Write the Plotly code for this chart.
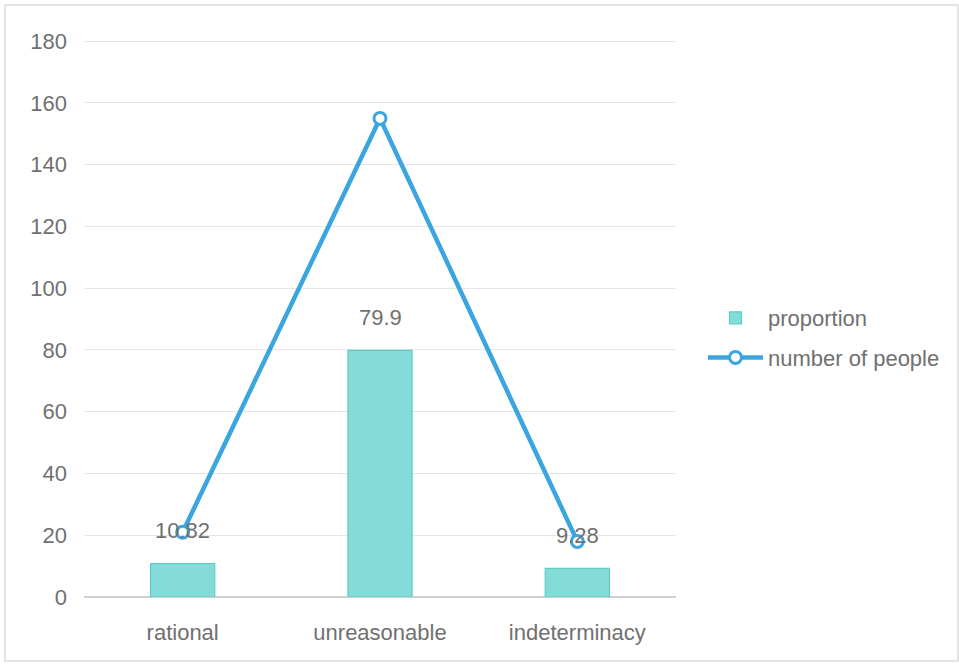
import plotly.graph_objects as go

categories = ["rational", "unreasonable", "indeterminacy"]
proportion = [10.82, 79.9, 9.28]
people = [21, 155, 18]
y_ticks = [0, 20, 40, 60, 80, 100, 120, 140, 160, 180]

W, H = 959, 664
L, R, T, B = 84, 283, 40, 67
pw, ph = W - L - R, H - T - B

def px_x(p):
    return (p - L) / pw

def px_y(p):
    return (H - B - p) / ph

FS = 22
GREY = "#707070"

fig = go.Figure()
fig.add_trace(go.Bar(
    x=categories, y=proportion, name="proportion", legendgroup="a",
    width=0.325,
    marker=dict(color="#84dcd9", line=dict(color="#5ccdca", width=1.2)),
    hoverinfo="x+y",
))
fig.add_trace(go.Scatter(
    x=categories, y=people, name="number of people", legendgroup="b",
    mode="lines+markers",
    line=dict(color="#3aa5df", width=4.5),
    marker=dict(symbol="circle", size=12, color="white",
                line=dict(color="#3aa5df", width=3)),
))

for c, v in zip(categories, proportion):
    fig.add_annotation(x=c, y=v, text=f"{v:g}", showarrow=False,
                       yshift=33, font=dict(size=FS, color=GREY))

fig.add_shape(type="rect", xref="paper", yref="paper",
              x0=px_x(5), x1=px_x(958), y0=px_y(661), y1=px_y(5),
              line=dict(color="#dcdcdc", width=1.5), layer="below")

fig.update_layout(
    width=W, height=H,
    margin=dict(l=L, r=R, t=T, b=B, pad=0),
    paper_bgcolor="white", plot_bgcolor="white",
    font=dict(family="Liberation Sans, Arial, sans-serif", size=FS, color=GREY),
    showlegend=True,
    legend=dict(x=px_x(703), y=px_y(338), xanchor="left", yanchor="middle",
                font=dict(size=FS, color=GREY),
                tracegroupgap=8, itemwidth=55),
    bargap=0.675,
)
fig.update_xaxes(showgrid=False, showline=False, ticks="",
                 ticklabelstandoff=20,
                 tickfont=dict(size=FS, color=GREY))
fig.update_yaxes(range=[0, 180.4], tickvals=y_ticks, showgrid=True,
                 gridcolor="#e6e6e6", gridwidth=1, zeroline=True,
                 zerolinecolor="#d0d0d0", zerolinewidth=1.5,
                 showline=False, ticks="", ticklabelstandoff=16,
                 tickfont=dict(size=FS, color=GREY))

fig.write_html("out.html")
